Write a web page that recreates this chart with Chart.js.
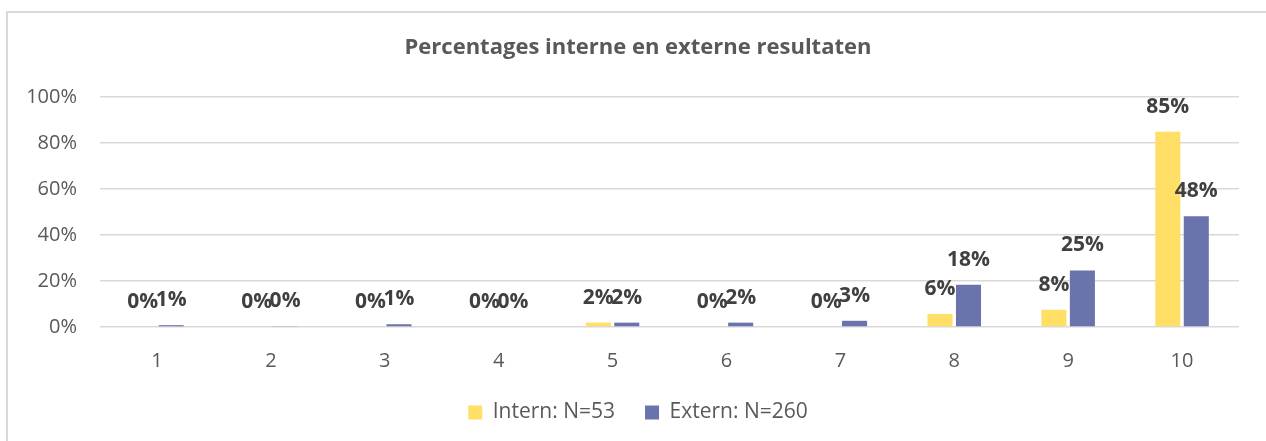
<!DOCTYPE html>
<html>
<head>
<meta charset="utf-8">
<script src="https://cdn.jsdelivr.net/npm/chart.js@4.4.0/dist/chart.umd.min.js"></script>
<style>
  html, body { margin: 0; padding: 0; background: #fff; }
  #wrap { position: relative; width: 1266px; height: 441px; overflow: hidden; }
  #frame { position: absolute; left: 6px; top: 11px; width: 1300px; height: 500px;
           border: 2px solid #d9d9d9; box-sizing: border-box; pointer-events: none; }
  canvas { position: absolute; left: 0; top: 0; }
</style>
</head>
<body>
<div id="wrap">
  <canvas id="myBarChart" width="1266" height="441"></canvas>
  <div id="frame"></div>
</div>
<script>
// Categories (scores 1 to 10)
var labels = ['1', '2', '3', '4', '5', '6', '7', '8', '9', '10'];

// Percentages per score
var internValues = [0, 0, 0, 0, 1.9, 0, 0, 5.7, 7.5, 84.9];
var externValues = [0.8, 0.4, 1.2, 0, 1.9, 1.9, 2.7, 18.4, 24.6, 48.1];

// Y-axis ticks
var yTicks = [0, 20, 40, 60, 80, 100];

var textColor = '#595959';
var fontFamily = '"Open Sans", "Noto Sans", sans-serif';

// Draw the value labels above each bar
var valueLabels = {
    id: 'valueLabels',
    afterDatasetsDraw: function(chart) {
        var ctx = chart.ctx;
        ctx.save();
        ctx.font = 'bold 21px ' + fontFamily;
        ctx.fillStyle = '#404040';
        ctx.textAlign = 'center';
        ctx.textBaseline = 'middle';
        chart.data.datasets.forEach(function(ds, i) {
            var meta = chart.getDatasetMeta(i);
            meta.data.forEach(function(bar, j) {
                ctx.fillText(Math.round(ds.data[j]) + '%', bar.x, bar.y - 25);
            });
        });
        ctx.restore();
    }
};

// Centre title and legend on the outer frame rather than on the canvas
var centreOnFrame = {
    id: 'centreOnFrame',
    afterLayout: function(chart) {
        chart.titleBlock.left = 37;
        chart.legend.left = 37;
    }
};

var ctx = document.getElementById('myBarChart').getContext('2d');

var myBarChart = new Chart(ctx, {
    type: 'bar',
    data: {
        labels: labels,
        datasets: [
            {
                label: 'Intern: N=53',
                data: internValues,
                backgroundColor: '#FFDF66',
                categoryPercentage: 0.5,
                barPercentage: 0.88
            },
            {
                label: 'Extern: N=260',
                data: externValues,
                backgroundColor: '#6A73AC',
                categoryPercentage: 0.5,
                barPercentage: 0.88
            }
        ]
    },
    options: {
        responsive: false,
        animation: false,
        layout: {
            padding: { left: 0, right: 27, top: 0, bottom: 8 }
        },
        scales: {
            x: {
                grid: { display: false, drawTicks: false },
                border: { display: false },
                ticks: {
                    color: textColor,
                    padding: 22,
                    font: { family: fontFamily, size: 20 }
                },
                afterFit: function(scale) { scale.height = 45; }
            },
            y: {
                min: 0,
                max: 100,
                afterBuildTicks: function(scale) {
                    scale.ticks = yTicks.map(function(v) { return { value: v }; });
                },
                grid: { color: '#d9d9d9', lineWidth: 1.5, drawTicks: false },
                border: { display: false },
                ticks: {
                    color: textColor,
                    padding: 23,
                    font: { family: fontFamily, size: 20 },
                    callback: function(v) { return v + '%'; }
                },
                afterFit: function(scale) { scale.width = 100; }
            }
        },
        plugins: {
            title: {
                display: true,
                text: 'Percentages interne en externe resultaten',
                color: textColor,
                font: { family: fontFamily, size: 22, weight: 'bold' },
                padding: { top: 35, bottom: 35.6 }
            },
            legend: {
                display: true,
                position: 'bottom',
                labels: {
                    color: textColor,
                    boxWidth: 14,
                    boxHeight: 14,
                    padding: 30,
                    font: { family: fontFamily, size: 21 }
                }
            },
            tooltip: { enabled: false }
        }
    },
    plugins: [valueLabels, centreOnFrame]
});
</script>
</body>
</html>
